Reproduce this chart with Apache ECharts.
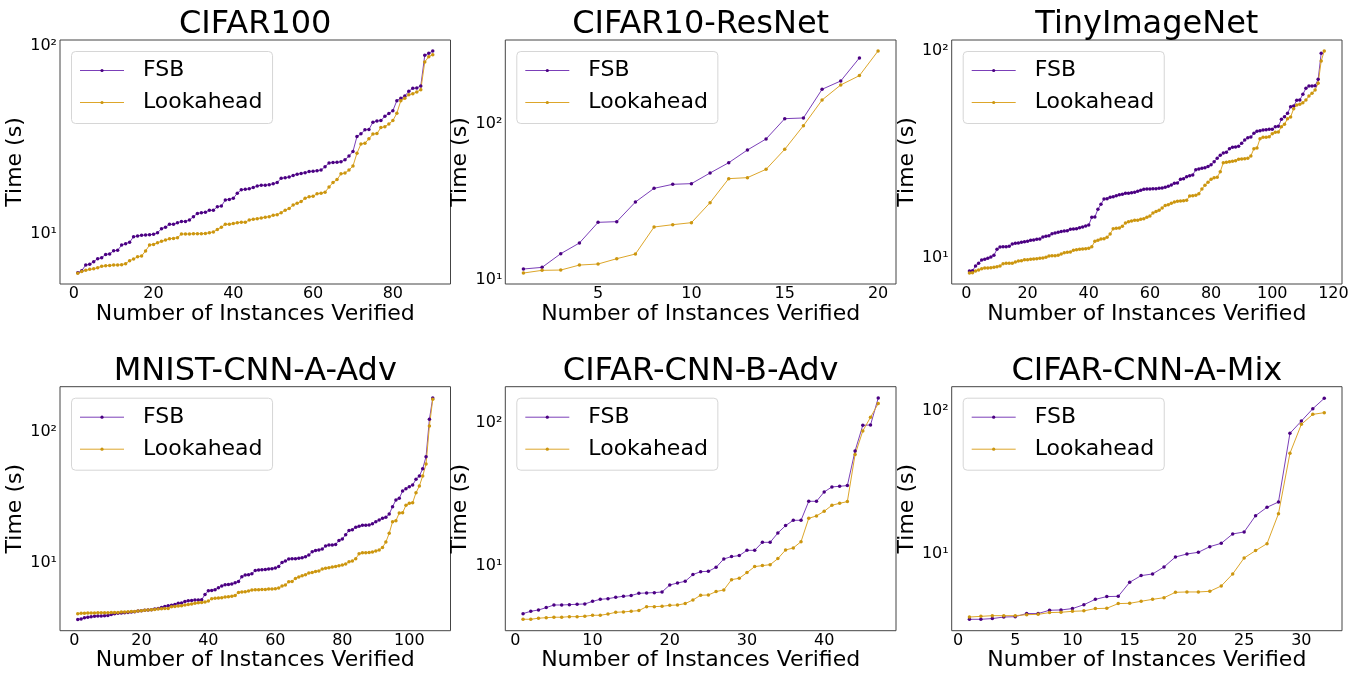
<!DOCTYPE html>
<html><head><meta charset="utf-8">
<script src="https://cdn.jsdelivr.net/npm/echarts@6/dist/echarts.min.js"></script>
<style>html,body{margin:0;padding:0;background:#fff}#c{width:1367px;height:677px}</style>
</head><body><div id="c"></div>
<script>
// ---------------- DATA ----------------
const seriesNames = ['FSB', 'Lookahead'];
const titles = ['CIFAR100', 'CIFAR10-ResNet', 'TinyImageNet', 'MNIST-CNN-A-Adv', 'CIFAR-CNN-B-Adv', 'CIFAR-CNN-A-Mix'];
const xAxisName = 'Number of Instances Verified';
const yAxisName = 'Time (s)';
const yTickLabels = { 1: '10\u00B9', 2: '10\u00B2' };
const xTickSteps = [20, 5, 20, 20, 10, 5];

const cifar100Fsb = [6.18,6.34,6.79,6.85,7.08,7.34,7.43,7.74,7.78,8.10,8.13,8.68,8.83,8.97,9.62,9.70,9.78,9.82,9.86,9.90,
  10.1,10.6,10.8,11.2,11.2,11.4,11.6,11.6,11.8,12.3,12.8,12.9,13.0,13.3,13.3,13.9,14.0,15.1,15.2,15.4,
  16.4,17.1,17.2,17.3,17.6,17.9,18.1,18.1,18.2,18.4,18.7,19.7,19.8,20.0,20.4,20.7,20.9,21.1,21.4,21.5,
  21.6,21.8,22.7,23.8,23.9,24.0,24.1,24.7,25.9,27.4,32.9,34.0,35.7,35.9,39.2,39.8,40.0,42.2,43.6,45.2,
  51.1,52.6,54.1,57.3,59.5,59.7,61.2,89.2,91.4,94.0];
const cifar100La = [6.13,6.28,6.36,6.44,6.49,6.57,6.68,6.74,6.76,6.79,6.79,6.82,6.90,7.16,7.31,7.52,7.59,8.07,8.68,8.75,
  8.93,9.08,9.23,9.38,9.42,9.50,9.94,9.94,9.94,9.98,9.98,9.98,10.0,10.1,10.2,10.5,10.8,11.2,11.2,11.3,
  11.4,11.5,11.5,11.8,11.9,12.0,12.1,12.2,12.3,12.5,12.6,12.9,13.3,13.6,14.2,14.5,14.8,15.4,15.7,15.8,
  16.3,16.4,16.6,17.7,18.7,19.4,20.8,21.0,21.8,22.9,26.8,30.0,30.3,32.0,33.9,34.1,36.7,37.1,38.4,40.0,
  43.8,51.1,52.6,55.0,55.7,56.8,58.5,82.2,87.7,89.9];

const resnetFsb = [11.77,12.06,14.76,17.29,23.47,23.70,31.70,38.81,41.18,41.58,48.68,56.7,68.4,80.5,108.7,109.8,167.8,189.8,266.8];
const resnetLa = [11.09,11.54,11.59,12.48,12.67,13.71,14.69,21.90,22.67,23.35,31.39,44.77,45.44,51.40,69.1,98.0,143.3,178.9,205.4,295.9];

const tinyFsb = [8.62,8.65,9.11,9.39,9.74,9.82,9.93,10.07,10.26,10.97,11.26,11.30,11.30,11.34,11.64,11.73,11.77,11.86,11.95,11.99,
  12.13,12.17,12.26,12.31,12.58,12.68,12.77,13.06,13.16,13.26,13.36,13.46,13.50,13.71,13.76,13.81,13.96,14.07,14.22,14.38,
  15.66,15.72,17.12,18.10,19.20,19.28,19.57,19.71,19.93,20.15,20.23,20.46,20.46,20.61,20.68,20.92,21.15,21.39,21.47,21.47,
  21.54,21.54,21.62,21.70,21.87,22.11,22.44,22.86,22.94,23.90,24.08,24.62,24.90,25.08,26.62,26.82,27.02,27.22,27.53,28.14,
  29.09,30.19,31.21,32.03,32.27,33.62,34.12,34.25,34.50,35.67,37.02,38.00,38.28,39.87,40.77,41.07,41.38,41.53,41.69,41.69,
  42.94,43.10,46.58,47.99,49.80,53.64,54.04,57.55,57.76,61.52,65.77,67.51,67.51,67.76,72.68,97.07];
const tinyLa = [8.43,8.46,8.62,8.72,8.85,8.91,8.91,8.95,8.98,9.05,9.11,9.35,9.39,9.39,9.39,9.53,9.63,9.67,9.78,9.78,
  9.82,9.85,9.89,9.93,9.96,10.04,10.19,10.22,10.22,10.26,10.42,10.57,10.61,10.65,10.85,10.93,10.97,11.01,11.05,11.09,
  11.30,11.99,12.13,12.31,12.35,12.54,13.01,13.81,13.86,13.91,14.17,14.71,14.93,15.04,15.15,15.15,15.32,15.43,15.66,15.89,
  16.44,16.69,16.93,17.38,17.84,18.03,18.30,18.58,18.71,18.78,18.85,18.92,19.86,19.93,20.00,20.38,21.47,22.36,23.11,23.90,
  24.35,24.44,26.03,28.77,28.88,29.09,29.20,29.42,29.85,29.97,30.08,30.19,30.99,33.62,33.87,37.58,38.14,38.14,38.42,39.72,
  40.32,40.47,42.94,44.06,46.93,47.80,52.46,54.65,55.05,56.09,57.76,60.39,62.22,64.57,69.54,89.17,99.6];

const mnistFsb = [3.67,3.70,3.78,3.81,3.85,3.88,3.90,3.90,3.92,3.94,4.01,4.06,4.09,4.11,4.14,4.16,4.19,4.21,4.26,4.28,
  4.31,4.33,4.36,4.41,4.46,4.54,4.62,4.68,4.71,4.79,4.88,4.90,5.05,5.11,5.14,5.17,5.17,5.20,5.71,6.10,
  6.13,6.21,6.43,6.62,6.78,6.82,6.86,7.02,7.19,7.81,8.04,8.09,8.23,8.73,8.78,8.84,8.89,8.94,9.00,9.10,
  9.37,10.06,10.30,10.67,10.73,10.73,10.80,10.92,11.12,11.45,12.15,12.43,12.51,12.73,13.42,13.66,13.66,13.82,14.83,15.19,
  16.40,17.70,17.91,18.67,19.00,19.34,19.34,19.45,19.92,20.63,21.25,21.89,22.28,23.62,26.90,30.26,31.17,35.47,36.97,38.30,
  39.44,43.59,46.24,52.63,65.06,125.8,183.4];
const mnistLa = [4.06,4.09,4.09,4.11,4.11,4.11,4.14,4.14,4.14,4.14,4.16,4.16,4.16,4.19,4.19,4.21,4.23,4.23,4.26,4.28,
  4.31,4.33,4.36,4.38,4.41,4.44,4.46,4.46,4.60,4.62,4.65,4.68,4.73,4.79,4.82,4.88,4.93,4.96,4.99,5.08,
  5.30,5.33,5.36,5.39,5.45,5.48,5.52,5.61,5.92,5.95,5.99,6.06,6.17,6.21,6.21,6.24,6.24,6.28,6.28,6.32,
  6.39,6.62,6.74,7.15,7.19,7.58,7.76,7.95,8.09,8.33,8.43,8.58,8.63,8.94,9.05,9.15,9.26,9.37,9.48,9.60,
  9.77,10.18,10.30,10.73,11.72,11.93,11.93,12.00,12.07,12.29,12.51,13.11,14.41,16.80,20.63,21.01,24.05,24.19,27.54,28.53,
  28.87,34.44,38.74,46.24,57.15,111.8,179.1];

const cnnBFsb = [4.60,4.78,4.88,5.07,5.29,5.29,5.32,5.35,5.38,5.61,5.80,5.86,5.99,6.09,6.16,6.39,6.43,6.46,6.53,7.31,
  7.55,7.76,8.65,9.07,9.12,9.73,11.14,11.57,11.76,12.81,12.81,14.58,14.58,16.96,19.10,20.82,20.82,28.31,28.31,32.94,
  35.71,36.10,36.49,63.92,96.8,97.3,150.7];
const cnnBLa = [4.20,4.20,4.27,4.31,4.34,4.34,4.38,4.38,4.41,4.48,4.48,4.57,4.70,4.73,4.78,4.83,5.15,5.15,5.18,5.26,
  5.29,5.41,5.74,6.19,6.22,6.57,6.75,7.97,8.15,8.93,9.84,10.0,10.16,11.20,12.88,13.31,14.74,21.5,22.34,24.09,
  26.54,27.41,28.17,60.26,88.35,110.2,137.5];

const mixFsb = [3.52,3.52,3.56,3.65,3.67,3.86,3.86,4.07,4.09,4.18,4.45,4.85,5.07,5.09,6.38,7.10,7.29,8.16,9.58,10.05,
  10.33,11.31,11.93,13.87,14.32,18.61,21.28,23.18,69.85,85.15,103.8,122.6];
const mixLa = [3.65,3.69,3.73,3.73,3.73,3.79,3.81,3.92,3.94,4.00,4.03,4.18,4.20,4.53,4.55,4.70,4.85,4.98,5.43,5.46,
  5.46,5.52,6.01,7.29,9.43,10.61,11.87,19.21,50.67,80.72,94.78,97.36];

const fsbSets = [cifar100Fsb, resnetFsb, tinyFsb, mnistFsb, cnnBFsb, mixFsb];
const laSets = [cifar100La, resnetLa, tinyLa, mnistLa, cnnBLa, mixLa];

// ---------------- LAYOUT ----------------
const colLeft = [60, 505.3, 951.7];
const colWidth = [390.5, 390.7, 390.3];
const rowTop = [40, 386.7];
const plotHeight = 244;
const xRanges = [[-3.45, 94.45], [0.03, 20.96], [-4.8, 122.8], [-4.3, 112.3], [-1.3, 49.3], [-0.55, 33.55]];
const yRanges = [[5.38, 107.6], [9.43, 347.8], [7.46, 112.6], [3.01, 223.9], [3.49, 180.7], [2.93, 147.8]];

const FONT = "'DejaVu Sans', sans-serif";
const fsbLine = '#7b3fb8', fsbMark = '#4B0082';
const laLine = '#DDA62A', laMark = '#CC960F';

const option = { animation: false, backgroundColor: '#fff', grid: [], xAxis: [], yAxis: [], series: [], legend: [], graphic: [] };

for (let i = 0; i < 6; i++) {
  const r = Math.floor(i / 3), c = i % 3;
  const left = colLeft[c], top = rowTop[r], width = colWidth[c];
  const step = xTickSteps[i];
  option.grid.push({ left, top, width, height: plotHeight, show: true, borderColor: '#444', borderWidth: 1, backgroundColor: 'transparent' });
  option.xAxis.push({
    type: 'value', gridIndex: i, min: xRanges[i][0], max: xRanges[i][1],
    splitNumber: 5, minInterval: step, maxInterval: step,
    name: xAxisName, nameLocation: 'middle', nameGap: 17,
    nameTextStyle: { fontSize: 22, fontFamily: FONT, color: '#000' },
    axisLine: { show: false }, axisTick: { show: false }, splitLine: { show: false },
    axisLabel: {
      fontSize: 16, fontFamily: FONT, color: '#000', margin: 2, showMinLabel: true, showMaxLabel: true,
      formatter: v => { const q = v / step; return Math.abs(q - Math.round(q)) < 1e-6 ? String(Math.round(v)) : ''; }
    }
  });
  option.yAxis.push({
    type: 'log', logBase: 10, gridIndex: i, min: yRanges[i][0], max: yRanges[i][1],
    name: yAxisName, nameLocation: 'middle', nameGap: 25,
    nameTextStyle: { fontSize: 22, fontFamily: FONT, color: '#000' },
    axisLine: { show: false }, axisTick: { show: false }, splitLine: { show: false }, minorTick: { show: false },
    axisLabel: {
      fontSize: 16, fontFamily: FONT, color: '#000', margin: 3,
      formatter: v => { const e = Math.log10(v); const k = Math.round(e); return (Math.abs(e - k) < 1e-6 && yTickLabels[k]) ? yTickLabels[k] : ''; }
    }
  });
  const mk = (name, arr, lc, mc) => ({
    name, type: 'line', xAxisIndex: i, yAxisIndex: i,
    data: arr.map((v, k) => [k + 1, v]),
    symbol: 'circle', symbolSize: 3.5, showSymbol: true,
    lineStyle: { width: 1, color: lc }, itemStyle: { color: mc },
    emphasis: { disabled: true }, silent: true
  });
  option.series.push(mk(seriesNames[0], fsbSets[i], fsbLine, fsbMark));
  option.series.push(mk(seriesNames[1], laSets[i], laLine, laMark));
  option.legend.push({
    data: seriesNames, orient: 'vertical', left: left + 11.5, top: top + 11.5,
    itemWidth: 44, itemHeight: 4, itemGap: 10, padding: [8, 10, 10, 8],
    backgroundColor: 'rgba(255,255,255,0.8)', borderColor: '#d6d6d6', borderWidth: 1, borderRadius: 4,
    selectedMode: false,
    lineStyle: { width: 1 },
    textStyle: { fontSize: 22, fontFamily: FONT, color: '#000', padding: [0, 0, 0, 14] }
  });
  option.graphic.push({
    type: 'text', x: left + width / 2, y: (r === 0 ? 34 : 380.7) - 9.5,
    style: { text: titles[i], fontSize: 32, fontFamily: FONT, fill: '#000', align: 'center', verticalAlign: 'middle', textAlign: 'center', textVerticalAlign: 'middle' }
  });
}

const chart = echarts.init(document.getElementById('c'), null, { renderer: 'canvas' });
chart.setOption(option);
</script>
</body></html>
